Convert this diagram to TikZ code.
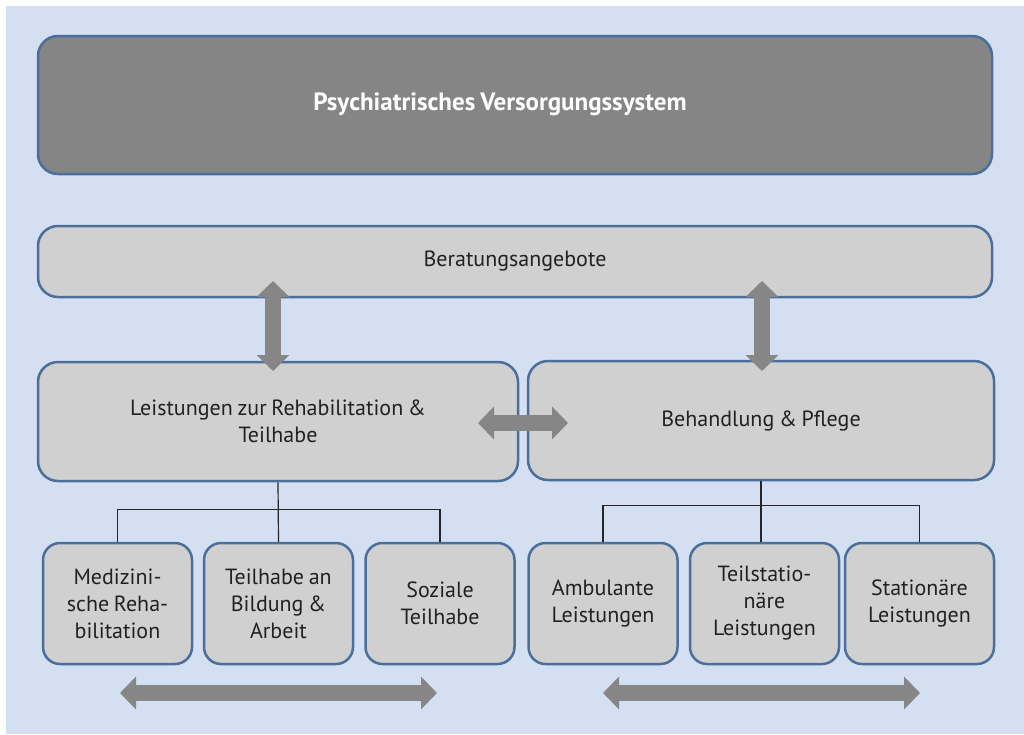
\documentclass[tikz,border=0pt]{standalone}
\usepackage{fontspec}
\setmainfont{PT Sans}[WordSpace=0.8]
\usetikzlibrary{arrows.meta}
\definecolor{bgblue}{RGB}{212,223,241}
\definecolor{boxgray}{RGB}{208,208,208}
\definecolor{darkgray}{RGB}{132,133,132}
\definecolor{edgeblue}{RGB}{74,111,154}
\definecolor{arrowgray}{RGB}{133,134,133}
\definecolor{txt}{RGB}{34,34,34}
\begin{document}
\begin{tikzpicture}[x=1pt,y=-1pt,
  box/.style={draw=edgeblue,line width=2.5pt,fill=boxgray,rounded corners=20pt,inner sep=0pt,align=center,text=txt,font=\fontsize{22}{27}\selectfont},
  smallbox/.style={box,rounded corners=17pt,minimum width=149pt,minimum height=121pt},
  bigarrow/.style={draw=arrowgray,line width=16pt,{Triangle[width=32pt,length=16pt]}-{Triangle[width=32pt,length=16pt]}},
  tree/.style={draw=black!85,line width=1.2pt}]
\useasboundingbox (0,0) rectangle (1024,734);
\fill[bgblue] (6,6) rectangle (1024,734);
\node[box,fill=darkgray,minimum width=954pt,minimum height=138pt] (top) at (515,105) {};
\node[text=white,font=\fontsize{25}{27}\selectfont\bfseries] (toptext) at (500,104) {Psychiatrisches Versorgungssystem};
\node[box,minimum width=954pt,minimum height=71pt] (ber) at (515,261.5) {Beratungsangebote};
\node[box,minimum width=480pt,minimum height=119pt] (reha) at (278,421.5) {Leistungen zur Rehabilitation \&\\Teilhabe};
\node[box,minimum width=466pt,minimum height=119pt] (beh) at (761,420.5) {Behandlung \& Pflege};
\node[smallbox] (med) at (117.5,603.5) {Medizini-\\sche Reha-\\bilitation};
\node[smallbox] (teil) at (278.5,603.5) {Teilhabe an\\Bildung \&\\Arbeit};
\node[smallbox] (soz) at (440,603.5) {Soziale\\Teilhabe};
\node[smallbox] (amb) at (603,603.5) {Ambulante\\Leistungen};
\node[smallbox] (tst) at (764.5,603.5) {Teilstatio-\\näre\\Leistungen};
\node[smallbox] (sta) at (919.5,603.5) {Stationäre\\Leistungen};
% tree connectors
\draw[tree] (reha.south) -- (teil.north);
\draw[tree] (med.north) -- ++(0,-32) -| (soz.north);
\draw[tree] (beh.south) -- (tst.north -| beh.south);
\draw[tree] (amb.north) -- ++(0,-36) -| (sta.north);
% arrows
\coordinate (a1t) at (273,281);
\coordinate (a1b) at (273,371);
\coordinate (a2t) at (762,281);
\coordinate (a2b) at (762,371);
\coordinate (a3l) at (478,423);
\coordinate (a3r) at (568,423);
\coordinate (a4l) at (120,693);
\coordinate (a4r) at (437,693);
\coordinate (a5l) at (603,693);
\coordinate (a5r) at (920,693);
\draw[bigarrow] (a1t) -- (a1b);
\draw[bigarrow] (a2t) -- (a2b);
\draw[bigarrow] (a3l) -- (a3r);
\draw[bigarrow] (a4l) -- (a4r);
\draw[bigarrow] (a5l) -- (a5r);
\end{tikzpicture}
\end{document}
